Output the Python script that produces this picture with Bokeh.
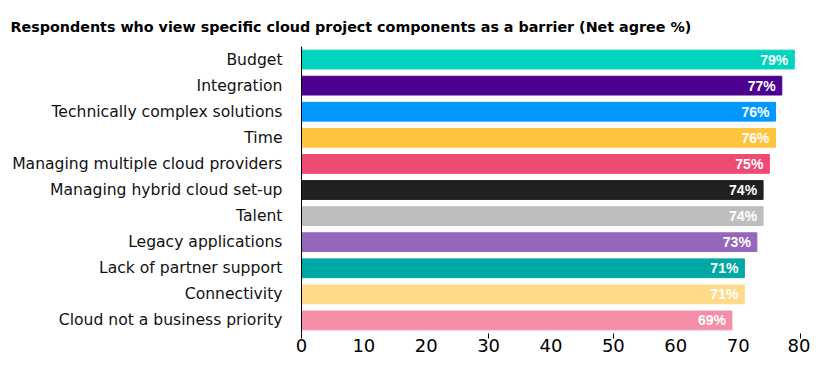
from bokeh.plotting import figure
from bokeh.models import FactorRange, FixedTicker, ColumnDataSource, Range1d
from bokeh.core.properties import value
from bokeh.embed import file_html
from bokeh.resources import INLINE

categories = ["Budget", "Integration", "Technically complex solutions", "Time",
              "Managing multiple cloud providers", "Managing hybrid cloud set-up",
              "Talent", "Legacy applications", "Lack of partner support",
              "Connectivity", "Cloud not a business priority"]
values = [79, 77, 76, 76, 75, 74, 74, 73, 71, 71, 69]
colors = ["#00d4be", "#4d008f", "#0099ff", "#fec43f", "#ef4a73", "#202020",
          "#bebebe", "#9466bc", "#00a8a5", "#ffda8a", "#f48fa8"]
tick_values = [0, 10, 20, 30, 40, 50, 60, 70, 80]
tick_marks = [0, 30, 50, 80]
title_text = "Respondents who view specific cloud project components as a barrier (Net agree %)"

labels = [f"{v}%" for v in values]
src = ColumnDataSource(dict(cat=categories, val=values, col=colors, lab=labels))

p = figure(width=810, height=354, output_backend="svg", toolbar_location=None,
           y_range=FactorRange(*categories[::-1]), x_range=Range1d(0, 81.6),
           min_border_left=301, min_border_right=0, min_border_top=46,
           min_border_bottom=0, title=title_text)

p.title.text_font = "DejaVu Sans"
p.title.text_font_style = "bold"
p.title.text_font_size = "14.3px"
p.title.text_color = "black"
p.title.offset = -291
p.title.standoff = 20
p.title.vertical_align = "top"

p.hbar(y="cat", right="val", left=0, height=0.72, color="col", source=src)
p.text(x="val", y="cat", text="lab", source=src, x_offset=-6,
       text_align="right", text_baseline="middle", text_color="white",
       text_font=value("Liberation Sans"), text_font_style="bold",
       text_font_size="14px")

p.outline_line_color = None
p.grid.visible = False

xa = p.xaxis[0]
xa.ticker = FixedTicker(ticks=tick_values, minor_ticks=tick_marks)
xa.axis_line_color = None
xa.major_tick_line_color = None
xa.major_tick_out = 5
xa.major_tick_in = 0
xa.minor_tick_line_color = "black"
xa.minor_tick_out = 5
xa.minor_tick_in = 0
xa.major_label_standoff = 0
xa.major_label_text_font = "DejaVu Sans"
xa.major_label_text_font_size = "18px"
xa.major_label_text_color = "black"

ya = p.yaxis[0]
ya.axis_line_color = "black"
ya.major_tick_line_color = None
ya.minor_tick_line_color = None
ya.major_tick_out = 0
ya.major_tick_in = 0
ya.major_label_standoff = 19
ya.major_label_text_font = "DejaVu Sans"
ya.major_label_text_font_size = "15.6px"
ya.major_label_text_color = "#111111"

open("out.html", "w").write(file_html(p, INLINE))
